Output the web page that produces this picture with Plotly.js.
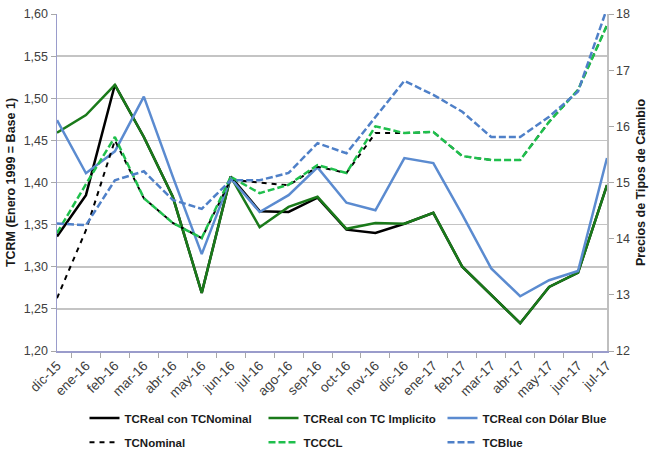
<!DOCTYPE html>
<html>
<head>
<meta charset="utf-8">
<script src="https://cdn.plot.ly/plotly-3.0.1.min.js"></script>
<style>html,body{margin:0;padding:0;background:#fff;}#chart{width:653px;height:453px;}</style>
</head>
<body>
<div id="chart"></div>
<script>
var months = ['dic-15','ene-16','feb-16','mar-16','abr-16','may-16','jun-16','jul-16','ago-16','sep-16','oct-16','nov-16','dic-16','ene-17','feb-17','mar-17','abr-17','may-17','jun-17','jul-17'];

// Left axis (TCRM, Enero 1999 = Base 1)
var tcrealNominal   = [1.336,1.385,1.516,1.454,1.383,1.269,1.407,1.366,1.365,1.382,1.344,1.340,1.351,1.364,1.300,1.266,1.233,1.276,1.293,1.397];
var tcrealImplicito = [1.459,1.480,1.516,1.454,1.383,1.269,1.407,1.347,1.371,1.383,1.345,1.352,1.351,1.364,1.300,1.266,1.233,1.276,1.293,1.397];
var tcrealBlue      = [1.474,1.411,1.437,1.502,1.407,1.315,1.405,1.365,1.385,1.418,1.376,1.367,1.429,1.423,1.362,1.298,1.265,1.284,1.295,1.429];

// Right axis (Precios de Tipos de Cambio)
var tcNominal = [12.94,14.15,15.75,14.72,14.28,14.01,15.05,15.00,14.95,15.28,15.17,15.88,15.88,15.90,15.47,15.40,15.40,16.08,16.65,17.80];
var tcCCL     = [14.10,14.97,15.81,14.72,14.28,14.01,15.10,14.81,14.96,15.31,15.17,16.00,15.88,15.90,15.47,15.40,15.40,16.08,16.65,17.80];
var tcBlue    = [14.27,14.24,15.04,15.20,14.69,14.53,15.04,15.04,15.17,15.70,15.52,16.17,16.81,16.56,16.26,15.81,15.81,16.17,16.62,18.10];

var FONT = 'Liberation Sans, Arial, sans-serif';

var traces = [
  {x: months, y: tcNominal, yaxis: 'y2', name: 'TCNominal', legend: 'legend2', mode: 'lines',
   line: {color: '#000000', width: 2, dash: '5px,5px'}},
  {x: months, y: tcCCL, yaxis: 'y2', name: 'TCCCL', legend: 'legend2', mode: 'lines',
   line: {color: '#1fbf4c', width: 2.5, dash: '7px,3px'}},
  {x: months, y: tcBlue, yaxis: 'y2', name: 'TCBlue', legend: 'legend2', mode: 'lines',
   line: {color: '#4f80c8', width: 2.5, dash: '7px,3px'}},
  {x: months, y: tcrealNominal, yaxis: 'y', name: 'TCReal con TCNominal', legend: 'legend', mode: 'lines',
   line: {color: '#000000', width: 2.5}},
  {x: months, y: tcrealImplicito, yaxis: 'y', name: 'TCReal con TC Implicito', legend: 'legend', mode: 'lines',
   line: {color: '#1a7a1a', width: 2.5}},
  {x: months, y: tcrealBlue, yaxis: 'y', name: 'TCReal con Dólar Blue', legend: 'legend', mode: 'lines',
   line: {color: '#5b8bd0', width: 2.5}}
];

var legendCommon = {
  orientation: 'h', xref: 'paper', yref: 'container', xanchor: 'left', yanchor: 'middle',
  font: {family: FONT, size: 11.5, color: '#1a1a1a', weight: 'bold'},
  itemwidth: 30, entrywidthmode: 'pixels', entrywidth: 134,
  bgcolor: 'rgba(0,0,0,0)', borderwidth: 0, traceorder: 'normal'
};

var layout = {
  width: 653, height: 453,
  margin: {l: 57, r: 46, t: 14, b: 102},
  paper_bgcolor: '#ffffff', plot_bgcolor: '#ffffff',
  separators: ',.',
  font: {family: FONT, size: 12, color: '#404040'},
  showlegend: true,
  xaxis: {
    type: 'category', tickangle: -45, tickfont: {size: 13.5, color: '#404040'},
    showline: true, linecolor: '#9a9ccb', linewidth: 1.5,
    ticks: 'outside', tickson: 'boundaries', ticklen: 5, tickcolor: '#a8a8a8', tickwidth: 1,
    showgrid: false, zeroline: false, fixedrange: true
  },
  yaxis: {
    range: [1.2, 1.6], dtick: 0.05, tick0: 1.2, tickformat: '.2f',
    tickfont: {size: 12.5, color: '#404040'},
    showline: true, linecolor: '#9a9ccb', linewidth: 1.5,
    ticks: 'outside', ticklen: 5, tickcolor: '#a8a8a8',
    showgrid: true, gridcolor: '#c4c4c4', gridwidth: 1.5, zeroline: false,
    title: {text: 'TCRM (Enero 1999 = Base 1)', font: {size: 12.5, color: '#1a1a1a', weight: 'bold'}, standoff: 5}
  },
  yaxis2: {
    overlaying: 'y', side: 'right', range: [12, 18], dtick: 1,
    tickfont: {size: 12.5, color: '#404040'},
    showline: true, linecolor: '#bfbfbf', linewidth: 1.5,
    ticks: 'outside', ticklen: 5, tickcolor: '#a8a8a8',
    showgrid: false, zeroline: false,
    title: {text: 'Precios de Tipos de Cambio', font: {size: 12.5, color: '#1a1a1a', weight: 'bold'}, standoff: 7}
  },
  legend: Object.assign({}, legendCommon, {x: 0.05, y: 0.077}),
  legend2: Object.assign({}, legendCommon, {x: 0.05, y: 0.024})
};

Plotly.newPlot('chart', traces, layout, {staticPlot: true, displayModeBar: false});
</script>
</body>
</html>
